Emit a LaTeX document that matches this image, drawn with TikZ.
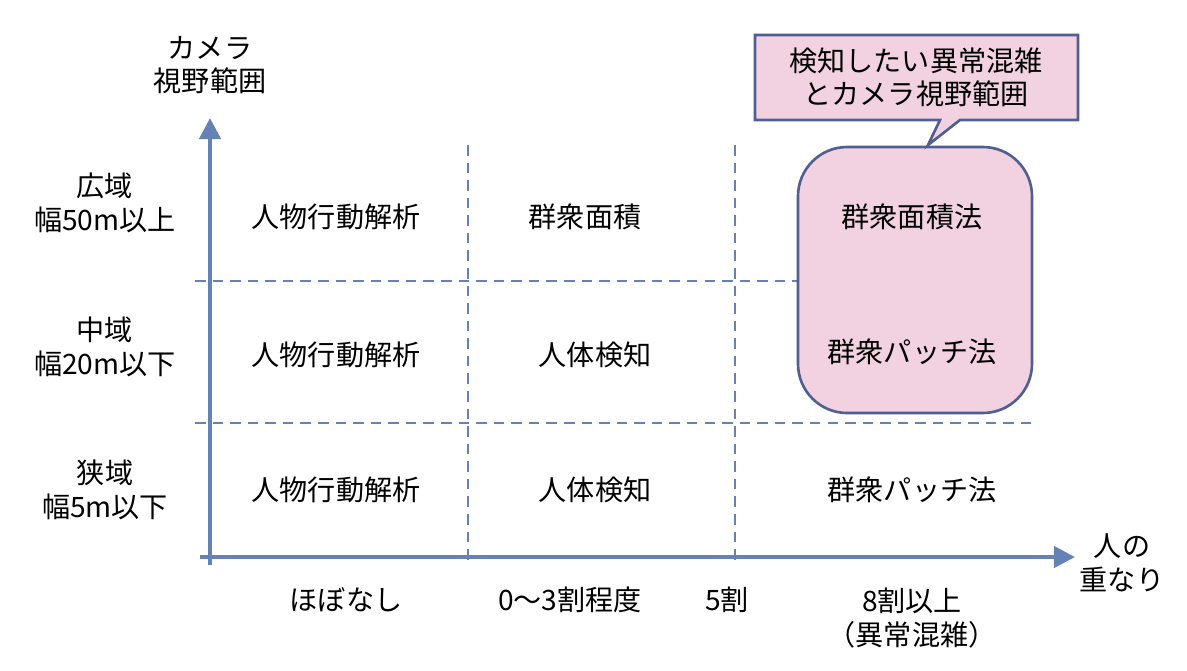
\documentclass[tikz,border=0pt]{standalone}
\usepackage{fontspec}
\setmainfont{Noto Sans CJK JP}
\usetikzlibrary{arrows.meta}
\definecolor{ax}{RGB}{100,130,180}
\definecolor{pk}{RGB}{242,210,225}
\definecolor{bd}{RGB}{80,95,145}
\tikzset{t/.style={font=\fontsize{16}{19}\selectfont,align=center,inner sep=0pt},
dl/.style={ax,dashed,line width=1.3pt,dash pattern=on 6pt off 4pt}}
\begin{document}
\begin{tikzpicture}[x=0.02cm,y=-0.02cm]
\useasboundingbox (0,0) rectangle (1187,670);
\draw[dl] (468,145) -- (468,565);
\draw[dl] (735,145) -- (735,565);
\draw[dl] (195,281) -- (1035,281);
\draw[dl] (195,423) -- (1035,423);
\draw[bd,fill=pk,line width=1.5pt,rounded corners=28pt] (798,147) rectangle (1032,413);
\draw[bd,fill=pk,line width=1.5pt] (755,35) -- (1078,35) -- (1078,120) -- (960,120) -- (928,145) -- (940,120) -- (755,120) -- cycle;
\node[t] (c) at (916,77) {検知したい異常混雑\\とカメラ視野範囲};
\coordinate (o) at (210,565);
\coordinate (ytop) at (210,118);
\coordinate (x0) at (200,557);
\coordinate (xe) at (1075,557);
\draw[ax,line width=2.5pt,-{Triangle[length=12pt,width=12pt]}] (o) -- (ytop);
\draw[ax,line width=2.5pt,-{Triangle[length=12pt,width=12pt]}] (x0) -- (xe);
\node[t] (yl) at (210,65) {カメラ\\視野範囲};
\node[t] (xl) at (1122,563) {人の\\重なり};
\node[t] at (105,203) {広域\\幅50m以上};
\node[t] at (105,347) {中域\\幅20m以下};
\node[t] at (105,490) {狭域\\幅5m以下};
\foreach \y in {217,355,490}{\node[t] at (336,\y) {人物行動解析};}
\node[t] at (585,217) {群衆面積};
\node[t] at (595,355) {人体検知};
\node[t] at (595,490) {人体検知};
\node[t] at (912,217) {群衆面積法};
\node[t] at (912,352) {群衆パッチ法};
\node[t] at (912,490) {群衆パッチ法};
\node[t] at (346,600) {ほぼなし};
\node[t] at (570,600) {0〜3割程度};
\node[t] at (727,600) {5割};
\node[t] at (912,618) {8割以上\\（異常混雑）};
\end{tikzpicture}
\end{document}
